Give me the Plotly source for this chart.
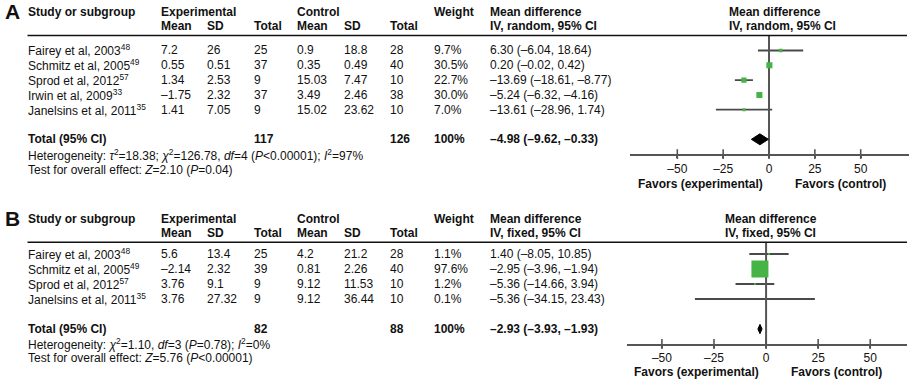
import plotly.graph_objects as go

W, H = 922, 388

# ---------------- Panel A data (random effects) ----------------
a_studies = ["Fairey et al, 2003", "Schmitz et al, 2005", "Sprod et al, 2012",
             "Irwin et al, 2009", "Janelsins et al, 2011"]
a_refs = ["48", "49", "57", "33", "35"]
a_exp_mean = [7.2, 0.55, 1.34, -1.75, 1.41]
a_exp_sd = [26, 0.51, 2.53, 2.32, 7.05]
a_exp_n = [25, 37, 9, 37, 9]
a_ctl_mean = [0.9, 0.35, 15.03, 3.49, 15.02]
a_ctl_sd = [18.8, 0.49, 7.47, 2.46, 23.62]
a_ctl_n = [28, 40, 10, 38, 10]
a_weight = [9.7, 30.5, 22.7, 30.0, 7.0]
a_md = [6.30, 0.20, -13.69, -5.24, -13.61]
a_lo = [-6.04, -0.02, -18.61, -6.32, -28.96]
a_hi = [18.64, 0.42, -8.77, -4.16, 1.74]
a_tot_exp_n, a_tot_ctl_n = 117, 126
a_tot_md, a_tot_lo, a_tot_hi = -4.98, -9.62, -0.33
a_method = "IV, random, 95% CI"
a_het = ("Heterogeneity: <i>τ</i><sup>2</sup>=18.38; <i>χ</i><sup>2</sup>=126.78, "
         "<i>df</i>=4 (<i>P</i>&lt;0.00001); <i>I</i><sup>2</sup>=97%")
a_test = "Test for overall effect: <i>Z</i>=2.10 (<i>P</i>=0.04)"

# ---------------- Panel B data (fixed effects) ----------------
b_studies = ["Fairey et al, 2003", "Schmitz et al, 2005", "Sprod et al, 2012",
             "Janelsins et al, 2011"]
b_refs = ["48", "49", "57", "35"]
b_exp_mean = [5.6, -2.14, 3.76, 3.76]
b_exp_sd = [13.4, 2.32, 9.1, 27.32]
b_exp_n = [25, 39, 9, 9]
b_ctl_mean = [4.2, 0.81, 9.12, 9.12]
b_ctl_sd = [21.2, 2.26, 11.53, 36.44]
b_ctl_n = [28, 40, 10, 10]
b_weight = [1.1, 97.6, 1.2, 0.1]
b_md = [1.40, -2.95, -5.36, -5.36]
b_lo = [-8.05, -3.96, -14.66, -34.15]
b_hi = [10.85, -1.94, 3.94, 23.43]
b_tot_exp_n, b_tot_ctl_n = 82, 88
b_tot_md, b_tot_lo, b_tot_hi = -2.93, -3.93, -1.93
b_method = "IV, fixed, 95% CI"
b_het = ("Heterogeneity: <i>χ</i><sup>2</sup>=1.10, <i>df</i>=3 (<i>P</i>=0.78); "
         "<i>I</i><sup>2</sup>=0%")
b_test = "Test for overall effect: <i>Z</i>=5.76 (<i>P</i>&lt;0.00001)"

tick_vals = [-50, -25, 0, 25, 50]
favor_left = "Favors (experimental)"
favor_right = "Favors (control)"

FONT = "Liberation Sans, Arial, Helvetica, sans-serif"
TXT = "#111111"
AXC = "#555555"
GREEN = "#45b345"


def dash(s):
    return s.replace("-", "–")


def num(v):
    return dash(str(v))


def ci(md, lo, hi):
    return dash(f"{md:.2f} ({lo:.2f}, {hi:.2f})")


annotations = []


def ann(text, xp, yp, size=12, bold=False, xanchor="left"):
    if bold:
        text = f"<b>{text}</b>"
    annotations.append(dict(
        text=text, x=xp / W, y=1 - yp / H, xref="paper", yref="paper",
        xanchor=xanchor, yanchor="middle", showarrow=False,
        font=dict(family=FONT, size=size, color=TXT), borderpad=0))


# column positions (px)
COL = dict(study=27, em=160, esd=206, en=253, cm=296, csd=343, cn=389,
           w=433, md=489)

fig = go.Figure()
shapes = []


def panel(letter, top, studies, refs, em, esd, en, cm, csd, cn, wt, md, lo, hi,
          ten, tcn, tmd, tlo, thi, method, het, test,
          row0, rstep, rule_y, total_idx, axis_idx, xaxis, yaxis,
          fplot_hdr_x, fav_y, fav_lx, fav_rx, size_k, dia_h, het_y, test_y):
    h1, h2 = top, top + 13.5
    ann(letter, 12.5, h1 - 0.5, size=21, bold=True, xanchor="center")
    ann("Study or subgroup", COL["study"], h1, bold=True)
    ann("Experimental", COL["em"], h1, bold=True)
    ann("Mean", COL["em"], h2, bold=True)
    ann("SD", COL["esd"], h2, bold=True)
    ann("Total", COL["en"], h2, bold=True)
    ann("Control", COL["cm"], h1, bold=True)
    ann("Mean", COL["cm"], h2, bold=True)
    ann("SD", COL["csd"], h2, bold=True)
    ann("Total", COL["cn"], h2, bold=True)
    ann("Weight", COL["w"], h1, bold=True)
    ann("Mean difference", COL["md"], h1, bold=True)
    ann(method, COL["md"], h2, bold=True)
    ann("Mean difference", fplot_hdr_x, h1, bold=True)
    ann(method, fplot_hdr_x, h2, bold=True)

    shapes.append(dict(type="line", xref="paper", yref="paper",
                       x0=27.5 / W, x1=907 / W, y0=1 - rule_y / H, y1=1 - rule_y / H,
                       line=dict(color="#111", width=1.6)))

    for i, s in enumerate(studies):
        y = row0 + i * rstep
        ann(f"{s}<sup>{refs[i]}</sup>", COL["study"], y)
        ann(num(em[i]), COL["em"], y)
        ann(num(esd[i]), COL["esd"], y)
        ann(num(en[i]), COL["en"], y)
        ann(num(cm[i]), COL["cm"], y)
        ann(num(csd[i]), COL["csd"], y)
        ann(num(cn[i]), COL["cn"], y)
        ann(f"{wt[i]:.1f}%", COL["w"], y)
        ann(ci(md[i], lo[i], hi[i]), COL["md"], y)

    ty = row0 + total_idx * rstep
    ann("Total (95% CI)", COL["study"], ty, bold=True)
    ann(str(ten), COL["en"], ty, bold=True)
    ann(str(tcn), COL["cn"], ty, bold=True)
    ann("100%", COL["w"], ty, bold=True)
    ann(ci(tmd, tlo, thi), COL["md"], ty, bold=True)
    ann(het, COL["study"], het_y)
    ann(test, COL["study"], test_y)

    ann(favor_left, fav_lx, fav_y, bold=True, xanchor="center")
    ann(favor_right, fav_rx, fav_y, bold=True, xanchor="center")

    top_idx = (rule_y - row0) / rstep
    idx = list(range(len(studies)))
    # CI lines
    cx, cy = [], []
    for i in idx:
        cx += [lo[i], hi[i], None]
        cy += [i, i, None]
    fig.add_trace(go.Scatter(x=cx, y=cy, mode="lines", line=dict(color="#4a4a4a", width=1.8),
                             xaxis=xaxis, yaxis=yaxis, hoverinfo="skip"))
    # zero line
    fig.add_trace(go.Scatter(x=[0, 0], y=[top_idx, axis_idx], mode="lines",
                             line=dict(color=AXC, width=2), xaxis=xaxis, yaxis=yaxis,
                             hoverinfo="skip", cliponaxis=False))
    # pooled diamond
    fig.add_trace(go.Scatter(x=[tlo, tmd, thi, tmd, tlo],
                             y=[total_idx, total_idx - dia_h, total_idx, total_idx + dia_h, total_idx],
                             mode="lines", fill="toself", fillcolor="#000",
                             line=dict(color="#000", width=1), xaxis=xaxis, yaxis=yaxis,
                             hoverinfo="skip"))
    # tick marks crossing the axis
    fig.add_trace(go.Scatter(x=tick_vals, y=[axis_idx] * len(tick_vals), mode="markers",
                             marker=dict(symbol="line-ns", size=7,
                                         line=dict(color=AXC, width=1.6)),
                             xaxis=xaxis, yaxis=yaxis, cliponaxis=False, hoverinfo="skip"))
    # study squares (drawn last, on top)
    fig.add_trace(go.Scatter(x=md, y=idx, mode="markers", opacity=1,
                             marker=dict(symbol="square", color=GREEN, opacity=1,
                                         size=[size_k * w ** 0.5 for w in wt],
                                         line=dict(width=0)),
                             xaxis=xaxis, yaxis=yaxis, hoverinfo="skip"))
    return top_idx


# Panel A geometry
a_row0, a_step, a_rule = 50.5, 14.8, 35.5
a_top_idx = panel("A", 12.3, a_studies, a_refs, a_exp_mean, a_exp_sd, a_exp_n,
                  a_ctl_mean, a_ctl_sd, a_ctl_n, a_weight, a_md, a_lo, a_hi,
                  a_tot_exp_n, a_tot_ctl_n, a_tot_md, a_tot_lo, a_tot_hi,
                  a_method, a_het, a_test,
                  a_row0, a_step, a_rule, 6, 7, "x", "y",
                  727.7, 184.3, 700.8, 840.7, 1.1, 0.37, 155, 170)

# Panel B geometry
b_row0, b_step, b_rule = 254, 15.0, 242.3
b_top_idx = panel("B", 219.3, b_studies, b_refs, b_exp_mean, b_exp_sd, b_exp_n,
                  b_ctl_mean, b_ctl_sd, b_ctl_n, b_weight, b_md, b_lo, b_hi,
                  b_tot_exp_n, b_tot_ctl_n, b_tot_md, b_tot_lo, b_tot_hi,
                  b_method, b_het, b_test,
                  b_row0, b_step, b_rule, 5, 6, "x2", "y2",
                  724.3, 371.7, 696, 836.3, 1.72, 0.31, 344, 358)


def xax(domain_px, rng, anchor):
    return dict(domain=[domain_px[0] / W, domain_px[1] / W], range=rng, anchor=anchor,
                showline=True, linecolor=AXC, linewidth=2, showgrid=False, zeroline=False,
                ticks="outside", ticklen=2, tickwidth=1.6, tickcolor=AXC,
                tickvals=tick_vals, ticktext=[dash(str(v)) for v in tick_vals],
                tickfont=dict(family=FONT, size=12, color=TXT), fixedrange=True)


def yax(top_px, bot_px, rng, anchor):
    return dict(domain=[1 - bot_px / H, 1 - top_px / H], range=rng, anchor=anchor,
                visible=False, fixedrange=True)


a_axis_px = a_row0 + 7 * a_step
b_axis_px = b_row0 + 6 * b_step

fig.update_layout(
    width=W, height=H, margin=dict(l=0, r=0, t=0, b=0),
    paper_bgcolor="white", plot_bgcolor="rgba(0,0,0,0)", showlegend=False,
    xaxis=xax((630, 909.3), [-75.8, 76.5], "y"),
    yaxis=yax(a_rule, a_axis_px, [7, a_top_idx], "x"),
    xaxis2=xax((626.7, 906.7), [-66.9, 67.5], "y2"),
    yaxis2=yax(b_rule, b_axis_px, [6, b_top_idx], "x2"),
    annotations=annotations, shapes=shapes,
)

fig.write_html("out.html")
